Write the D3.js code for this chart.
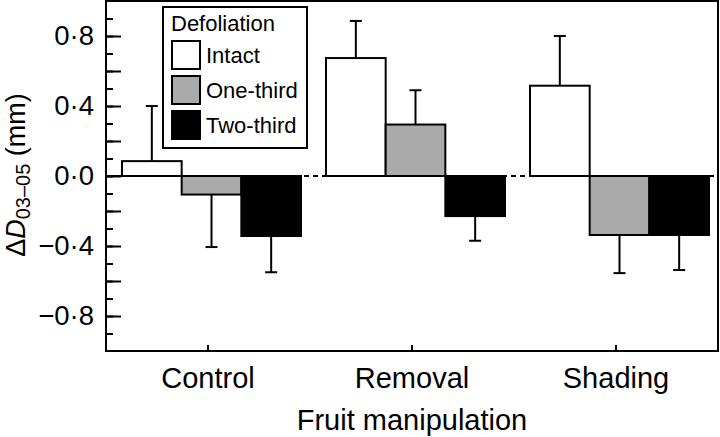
<!DOCTYPE html>
<html>
<head>
<meta charset="utf-8">
<script src="https://cdn.jsdelivr.net/npm/d3@7"></script>
<style>
  body { margin: 0; background: #fff; }
  svg { display: block; font-family: "Liberation Sans", Arial, Helvetica, sans-serif; }
</style>
</head>
<body>
<div id="chart"></div>
<script>
var groups = ['Control', 'Removal', 'Shading'];
var levels = ['Intact', 'One-third', 'Two-third'];
var levelColors = ['#ffffff', '#aaaaaa', '#000000'];

// mean change per group, one value per defoliation level
var means = [
    [0.085, -0.106, -0.343],
    [0.674, 0.294, -0.229],
    [0.516, -0.337, -0.337]
];
// error bar length (drawn away from zero)
var errors = [
    [0.315, 0.30, 0.207],
    [0.212, 0.196, 0.141],
    [0.284, 0.218, 0.20]
];
var yLabelTicks = [-0.8, -0.4, 0, 0.4, 0.8];

var width = 720,
    height = 437;
var margin = { top: 1, right: 2, bottom: 86, left: 106 };

var svg = d3.select('#chart')
    .append('svg')
    .attr('width', width)
    .attr('height', height);

var x0 = d3.scaleBand()
    .domain(groups)
    .range([margin.left, width - margin.right])
    .padding(0);

var groupWidth = 179;
var groupShift = 3.5;

var x1 = d3.scaleBand()
    .domain(levels)
    .range([0, groupWidth]);

var y = d3.scaleLinear()
    .domain([-1, 1])
    .range([height - margin.bottom, margin.top]);

var color = d3.scaleOrdinal(levels, levelColors);

var fmt = function(d) {
    return d3.format('.1f')(d).replace('.', '\u00b7').replace('-', '\u2212');
};

var data = [];
groups.forEach(function(g, i) {
    levels.forEach(function(l, j) {
        data.push({ group: g, level: l, value: means[i][j], err: errors[i][j] });
    });
});

function barX(d) {
    return x0(d.group) + x0.bandwidth() / 2 - groupWidth / 2 + groupShift + x1(d.level);
}

// zero line: solid at the left edge, dashed between groups
var firstBar = barX(data[0]);
svg.append('line')
    .attr('x1', x0.range()[0]).attr('x2', x0.range()[1])
    .attr('y1', y(0)).attr('y2', y(0))
    .attr('stroke', '#000')
    .attr('stroke-width', 2)
    .attr('stroke-dasharray', '5,4');
svg.append('line')
    .attr('x1', x0.range()[0]).attr('x2', firstBar)
    .attr('y1', y(0)).attr('y2', y(0))
    .attr('stroke', '#000')
    .attr('stroke-width', 2);

// error bars
var eb = svg.append('g').attr('class', 'errors');
data.forEach(function(d) {
    var cx = barX(d) + x1.bandwidth() / 2;
    var end = d.value >= 0 ? d.value + d.err : d.value - d.err;
    eb.append('line')
        .attr('x1', cx).attr('x2', cx)
        .attr('y1', y(d.value)).attr('y2', y(end))
        .attr('stroke', '#000').attr('stroke-width', 2);
    eb.append('line')
        .attr('x1', cx - 6).attr('x2', cx + 6)
        .attr('y1', y(end)).attr('y2', y(end))
        .attr('stroke', '#000').attr('stroke-width', 2);
});

// bars
svg.append('g')
    .selectAll('rect')
    .data(data)
    .enter()
    .append('rect')
    .attr('x', barX)
    .attr('width', x1.bandwidth())
    .attr('y', function(d) { return y(Math.max(0, d.value)); })
    .attr('height', function(d) { return Math.abs(y(d.value) - y(0)); })
    .attr('fill', function(d) { return color(d.level); })
    .attr('stroke', '#000')
    .attr('stroke-width', 2);

// y axis: minor ticks every 0.1, major every 0.2, labels every 0.4
svg.append('g')
    .attr('transform', 'translate(' + margin.left + ',0)')
    .call(d3.axisLeft(y).tickValues(d3.range(-9, 10).map(function(v) { return v / 10; })).tickSize(-7).tickFormat(''))
    .call(function(g) { g.select('.domain').remove(); })
    .selectAll('line').attr('stroke-width', 2);

svg.append('g')
    .attr('transform', 'translate(' + margin.left + ',0)')
    .call(d3.axisLeft(y).tickValues(d3.range(-4, 5).map(function(v) { return v / 5; })).tickSize(-15).tickFormat(''))
    .call(function(g) { g.select('.domain').remove(); })
    .selectAll('line').attr('stroke-width', 2);

var yLab = svg.append('g')
    .attr('transform', 'translate(' + margin.left + ',0)')
    .call(d3.axisLeft(y).tickValues(yLabelTicks).tickSize(0).tickPadding(12).tickFormat(fmt));
yLab.select('.domain').remove();
yLab.selectAll('text')
    .attr('font-size', 27.5)
    .attr('font-family', '"Liberation Sans", Arial, sans-serif')
    .attr('fill', '#000');

// x axis
var xAx = svg.append('g')
    .attr('transform', 'translate(0,' + (height - margin.bottom) + ')')
    .call(d3.axisBottom(x0).tickSize(-6).tickPadding(16));
xAx.select('.domain').remove();
xAx.selectAll('line').attr('stroke-width', 2);
xAx.selectAll('text')
    .attr('font-size', 29)
    .attr('font-family', '"Liberation Sans", Arial, sans-serif')
    .attr('fill', '#000');

// frame
svg.append('rect')
    .attr('x', margin.left)
    .attr('y', margin.top)
    .attr('width', width - margin.right - margin.left)
    .attr('height', height - margin.bottom - margin.top)
    .attr('fill', 'none')
    .attr('stroke', '#000')
    .attr('stroke-width', 2);

// axis titles
svg.append('text')
    .attr('x', (margin.left + width - margin.right) / 2)
    .attr('y', 430)
    .attr('text-anchor', 'middle')
    .attr('font-size', 29)
    .text('Fruit manipulation');

var yt = svg.append('text')
    .attr('transform', 'translate(25,' + (y(0) - 1) + ') rotate(-90)')
    .attr('text-anchor', 'middle')
    .attr('font-size', 27);
yt.append('tspan').text('\u0394');
yt.append('tspan').attr('font-style', 'italic').text('D');
yt.append('tspan').attr('font-size', 20).attr('dy', 5).text('03\u201305');
yt.append('tspan').attr('dy', -5).text(' (mm)');

// legend
var legend = svg.append('g').attr('class', 'legend');
legend.append('rect')
    .attr('x', 163).attr('y', 7)
    .attr('width', 144).attr('height', 141)
    .attr('fill', '#fff')
    .attr('stroke', '#000')
    .attr('stroke-width', 2);
legend.append('text')
    .attr('x', 171).attr('y', 31)
    .attr('font-size', 22)
    .text('Defoliation');

var items = legend.selectAll('.item')
    .data(levels)
    .enter()
    .append('g')
    .attr('class', 'item')
    .attr('transform', function(d, i) { return 'translate(172,' + (41 + i * 35) + ')'; });
items.append('rect')
    .attr('width', 28).attr('height', 28)
    .attr('fill', color)
    .attr('stroke', '#000')
    .attr('stroke-width', 2);
items.append('text')
    .attr('x', 34).attr('y', 22)
    .attr('font-size', 22)
    .text(function(d) { return d; });
</script>
</body>
</html>
